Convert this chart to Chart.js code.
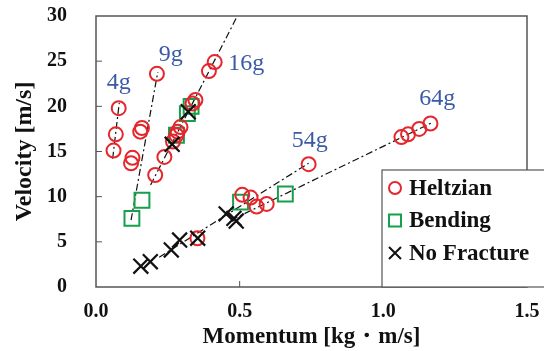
<!DOCTYPE html>
<html>
<head>
<meta charset="utf-8">
<script src="https://cdn.jsdelivr.net/npm/chart.js@4/dist/chart.umd.min.js"></script>
<style>
  html, body { margin: 0; padding: 0; background: #fff; }
  #wrap { width: 544px; height: 351px; }
</style>
</head>
<body>
<div id="wrap"><canvas id="chart" width="544" height="351"></canvas></div>
<script>
// measured points, momentum [kg m/s] vs velocity [m/s]
var heltzianX = [0.061, 0.069, 0.079, 0.122, 0.127, 0.154, 0.160, 0.212, 0.206, 0.238, 0.268, 0.280, 0.284, 0.294, 0.336, 0.346, 0.393, 0.413, 0.353, 0.509, 0.538, 0.559, 0.594, 0.740, 1.063, 1.086, 1.125, 1.164];
var heltzianY = [15.1, 16.9, 19.8, 13.7, 14.3, 17.2, 17.6, 23.6, 12.4, 14.4, 16.1, 16.8, 17.2, 17.7, 20.3, 20.7, 23.9, 24.9, 5.4, 10.2, 9.9, 8.9, 9.2, 13.6, 16.6, 16.9, 17.5, 18.1];

var bendingX = [0.125, 0.160, 0.280, 0.318, 0.331, 0.503, 0.659];
var bendingY = [7.6, 9.6, 16.8, 19.2, 20.0, 9.4, 10.3];

var noFractureX = [0.156, 0.189, 0.262, 0.291, 0.354, 0.453, 0.480, 0.488, 0.265, 0.321];
var noFractureY = [2.3, 2.8, 4.1, 5.2, 5.4, 8.1, 7.6, 7.3, 15.8, 19.4];

// fit lines per mass: start and end point
var massLabels = ['4g', '9g', '16g', '54g', '64g'];
var fitX = [[0.058, 0.081], [0.122, 0.215], [0.19, 0.492], [0.22, 0.74], [0.47, 1.17]];
var fitY = [[14.2, 20.4], [7.4, 23.8], [11.3, 30], [3.3, 13.7], [7.4, 18.2]];
var labelX = [0.079, 0.26, 0.523, 0.744, 1.188];
var labelY = [22.6, 25.7, 24.7, 16.2, 20.9];

var xTicks = [0, 0.5, 1.0, 1.5];
var yTicks = [0, 5, 10, 15, 20, 25, 30];

function pts(xs, ys) {
	return xs.map(function (x, i) { return { x: x, y: ys[i] }; });
}

var RED = '#e5262c', GREEN = '#15a04c', BLUE = '#3a5aa6';
var SERIF = '"Liberation Serif", "Times New Roman", serif';

var datasets = [
	{ label: 'Heltzian', data: pts(heltzianX, heltzianY), pointStyle: 'circle', pointRadius: 7,
	  borderColor: RED, backgroundColor: 'rgba(0,0,0,0)', pointBorderWidth: 2, order: 1 },
	{ label: 'Bending', data: pts(bendingX, bendingY), pointStyle: 'rect', pointRadius: 10.5,
	  borderColor: GREEN, backgroundColor: 'rgba(0,0,0,0)', pointBorderWidth: 2, order: 2 },
	{ label: 'No Fracture', data: pts(noFractureX, noFractureY), pointStyle: 'crossRot', pointRadius: 10.5,
	  borderColor: '#111', backgroundColor: '#111', pointBorderWidth: 2.2, order: 0 }
];
massLabels.forEach(function (m, i) {
	datasets.push({
		label: 'fit ' + m, data: pts(fitX[i], fitY[i]), showLine: true, pointRadius: 0,
		borderColor: '#111', borderWidth: 1.2, borderDash: [7, 3, 2, 3], order: 5
	});
});

var frame = {
	id: 'frame',
	beforeDatasetsDraw: function (chart) {
		var ctx = chart.ctx, a = chart.chartArea;
		var xs = chart.scales.x, ys = chart.scales.y;
		ctx.save();
		ctx.strokeStyle = '#555';
		ctx.lineWidth = 1.5;
		ctx.strokeRect(a.left, a.top, a.right - a.left, a.bottom - a.top);
		// inward ticks
		ctx.lineWidth = 1;
		xTicks.slice(1, -1).forEach(function (v) {
			var px = xs.getPixelForValue(v);
			ctx.beginPath(); ctx.moveTo(px, a.bottom); ctx.lineTo(px, a.bottom - 6); ctx.stroke();
		});
		yTicks.slice(1, -1).forEach(function (v) {
			var py = ys.getPixelForValue(v);
			ctx.beginPath(); ctx.moveTo(a.left, py); ctx.lineTo(a.left + 6, py); ctx.stroke();
		});
		ctx.restore();
	}
};

var decor = {
	id: 'decor',
	afterDraw: function (chart) {
		var ctx = chart.ctx, a = chart.chartArea;
		var xs = chart.scales.x, ys = chart.scales.y;
		ctx.save();
		// mass labels
		ctx.fillStyle = BLUE;
		ctx.font = '24px ' + SERIF;
		ctx.textAlign = 'center';
		ctx.textBaseline = 'middle';
		massLabels.forEach(function (m, i) {
			ctx.fillText(m, xs.getPixelForValue(labelX[i]), ys.getPixelForValue(labelY[i]));
		});
		// legend box
		var lx = 382, ly = 170, lw = 170, lh = a.bottom - ly;
		ctx.fillStyle = '#fff';
		ctx.fillRect(lx, ly, lw, lh);
		ctx.strokeStyle = '#555';
		ctx.lineWidth = 1.2;
		ctx.strokeRect(lx, ly, lw, lh);
		ctx.textAlign = 'left';
		ctx.font = 'bold 23px ' + SERIF;
		datasets.slice(0, 3).forEach(function (d, i) {
			var cy = ly + 18 + i * 32.5, cx = lx + 13;
			ctx.strokeStyle = d.borderColor;
			ctx.lineWidth = 2;
			ctx.beginPath();
			if (d.pointStyle === 'circle') {
				ctx.arc(cx, cy, 6, 0, Math.PI * 2);
			} else if (d.pointStyle === 'rect') {
				ctx.rect(cx - 6, cy - 6, 12, 12);
			} else {
				ctx.moveTo(cx - 6, cy - 6); ctx.lineTo(cx + 6, cy + 6);
				ctx.moveTo(cx + 6, cy - 6); ctx.lineTo(cx - 6, cy + 6);
			}
			ctx.stroke();
			ctx.fillStyle = '#111';
			ctx.fillText(d.label, lx + 27, cy + 1);
		});
		ctx.restore();
	}
};

new Chart(document.getElementById('chart'), {
	type: 'scatter',
	data: { datasets: datasets },
	options: {
		responsive: false,
		animation: false,
		layout: { padding: { top: 16, right: 17, left: 0, bottom: 0 } },
		plugins: { legend: { display: false }, tooltip: { enabled: false } },
		scales: {
			x: {
				type: 'linear', min: 0, max: 1.5,
				afterFit: function (s) { s.height = 64; s.paddingLeft = 0; s.paddingRight = 0; },
				afterBuildTicks: function (s) { s.ticks = xTicks.map(function (v) { return { value: v }; }); },
				grid: { display: false, drawTicks: false },
				border: { display: false },
				title: { display: true, text: 'Momentum [kg\u30fbm/s]', color: '#111', padding: 0,
					font: { family: SERIF, size: 23, weight: 'bold' } },
				ticks: { padding: 13, color: '#111', font: { family: SERIF, size: 20, weight: 'bold' },
					callback: function (v) { return v.toFixed(1); } }
			},
			y: {
				type: 'linear', min: 0, max: 30,
				afterFit: function (s) { s.width = 96; s.paddingTop = 0; s.paddingBottom = 0; },
				afterBuildTicks: function (s) { s.ticks = yTicks.map(function (v) { return { value: v }; }); },
				grid: { display: false, drawTicks: false },
				border: { display: false },
				title: { display: true, text: 'Velocity [m/s]', color: '#111', padding: { top: 10, bottom: 0 },
					font: { family: SERIF, size: 24, weight: 'bold' } },
				ticks: { padding: 29, color: '#111', font: { family: SERIF, size: 20, weight: 'bold' } }
			}
		}
	},
	plugins: [frame, decor]
});
</script>
</body>
</html>
